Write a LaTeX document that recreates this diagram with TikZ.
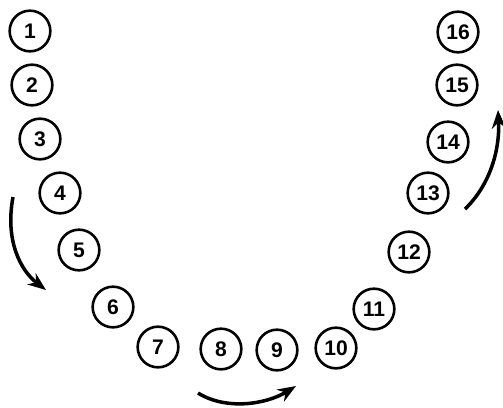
\documentclass[tikz,border=0pt]{standalone}
\usepackage{tikz}
\usetikzlibrary{arrows.meta}
\usepackage{fontspec}
\setsansfont{Liberation Sans}

\begin{document}
\begin{tikzpicture}[
    x=0.03cm, y=-0.03cm,
    every node/.style={font=\sffamily\bfseries\fontsize{18}{18}\selectfont},
    tooth/.style={draw, circle, line width=2.2pt, minimum size=1.22cm, inner sep=0pt},
    arr/.style={-{Stealth[length=5.5mm, width=4.2mm]}, line width=3pt}
]
    \useasboundingbox (0,0) rectangle (503,407);

    \node[tooth] (t1)  at (30,  31)  {1};
    \node[tooth] (t2)  at (32,  85)  {2};
    \node[tooth] (t3)  at (40,  139) {3};
    \node[tooth] (t4)  at (60,  193) {4};
    \node[tooth] (t5)  at (79,  250) {5};
    \node[tooth] (t6)  at (113, 307) {6};
    \node[tooth] (t7)  at (158, 347) {7};
    \node[tooth] (t8)  at (221, 349) {8};
    \node[tooth] (t9)  at (277, 350) {9};
    \node[tooth] (t10) at (336, 348) {10};
    \node[tooth] (t11) at (374, 309) {11};
    \node[tooth] (t12) at (409, 252) {12};
    \node[tooth] (t13) at (428, 193) {13};
    \node[tooth] (t14) at (448, 142) {14};
    \node[tooth] (t15) at (457, 85)  {15};
    \node[tooth] (t16) at (458, 32)  {16};

    \coordinate (l0) at (13, 197);
    \coordinate (l1) at (46, 290);
    \coordinate (b0) at (198, 393);
    \coordinate (b1) at (296, 386);
    \coordinate (r0) at (465, 209);
    \coordinate (r1) at (498, 110);

    \draw[arr] (l0) .. controls (5, 240) and (20, 270) .. (l1);
    \draw[arr] (b0) .. controls (225, 410) and (265, 405) .. (b1);
    \draw[arr] (r0) .. controls (490, 185) and (500, 150) .. (r1);
\end{tikzpicture}
\end{document}
